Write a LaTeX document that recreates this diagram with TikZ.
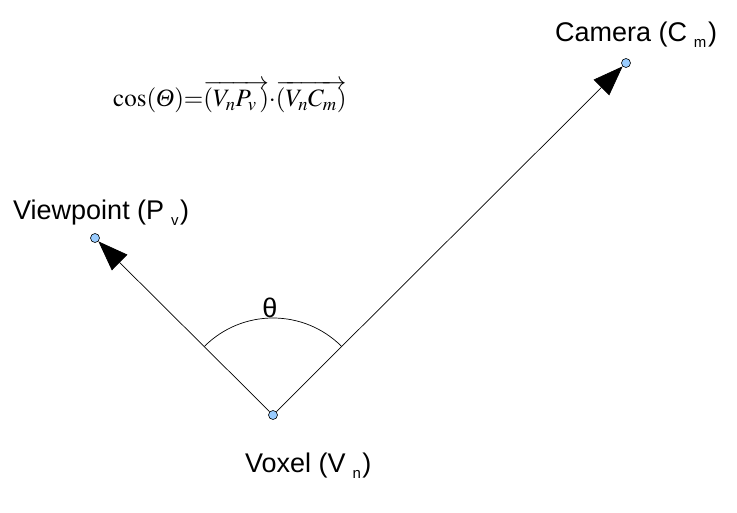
\documentclass[tikz,border=0pt]{standalone}
\usepackage{mathptmx}
\usepackage[no-math]{fontspec}
\setmainfont{Liberation Sans}
\newfontfamily\eqfont{Liberation Serif}
\usetikzlibrary{arrows.meta}

\definecolor{ptblue}{HTML}{99CCFF}
\newcommand{\lowsub}[1]{\hspace{0.25em}\raisebox{-0.22em}{\fontsize{15pt}{15pt}\selectfont #1}\hspace{0.06em}}

\tikzset{
  pnt/.style={circle, draw, fill=ptblue, inner sep=0pt, minimum size=9pt, line width=0.6pt},
  vec/.style={line width=0.7pt, -{Triangle[length=30pt,width=22pt]}},
  lbl/.style={font=\fontsize{27pt}{31pt}\selectfont, inner sep=0pt, anchor=base west}
}

\begin{document}
\begin{tikzpicture}[x=1pt,y=1pt]
  \useasboundingbox (0,0) rectangle (737,512);

  \node[pnt] (V) at (273,97) {};
  \node[pnt] (P) at (95,274) {};
  \node[pnt] (C) at (626,449) {};

  % Vectors
  \draw[vec] (V) -- (P);
  \draw[vec] (V) -- (C);

  % Angle
  \draw[line width=0.7pt] ([shift={(45:97)}]V.center) arc[start angle=45, end angle=135, radius=97];
  \node[lbl, anchor=center] (theta) at (270,204) {θ};

  \node[lbl] (camlbl)  at (555,470) {Camera (C\lowsub{m})};
  \node[lbl] (viewlbl) at (13,292)  {Viewpoint (P\lowsub{v})};
  \node[lbl] (voxlbl)  at (245,39)  {Voxel (V\lowsub{n})};

  \node[inner sep=0pt, anchor=base west, font=\fontsize{25pt}{29pt}\selectfont] (eq) at (113,405)
    {$\cos(\mbox{\eqfont\itshape Θ}){=}\overrightarrow{(V_{n}P_{v}\,)}{\cdot}\overrightarrow{(V_{n}C_{m})}$};

\end{tikzpicture}
\end{document}
